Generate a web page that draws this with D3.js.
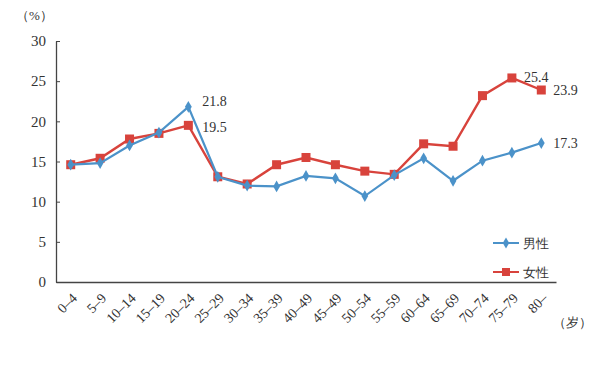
<!DOCTYPE html>
<html>
<head>
<meta charset="utf-8">
<script src="https://cdn.jsdelivr.net/npm/d3@7"></script>
<style>
  body { margin: 0; background: #fff; }
  svg { display: block; }
  text { font-family: "Liberation Serif", "DejaVu Serif", serif; }
</style>
</head>
<body>
<div id="chart"></div>
<script>
// age groups and rates (%)
var ages = ["0–4", "5–9", "10–14", "15–19", "20–24", "25–29", "30–34", "35–39", "40–49", "45–49",
            "50–54", "55–59", "60–64", "65–69", "70–74", "75–79", "80–"];
var male = [14.6, 14.8, 17.0, 18.6, 21.8, 13.1, 12.0, 11.9, 13.2, 12.9, 10.7, 13.3, 15.4, 12.6, 15.1, 16.1, 17.3];
var female = [14.6, 15.4, 17.8, 18.5, 19.5, 13.1, 12.2, 14.6, 15.5, 14.6, 13.8, 13.4, 17.2, 16.9, 23.2, 25.4, 23.9];
var yTicks = [0, 5, 10, 15, 20, 25, 30];
var seriesNames = ["男性", "女性"];

var blue = "#4b92c9";
var red = "#d8433c";
var textColor = "#333";

var width = 601, height = 365;
var margin = {left: 56, right: 45, top: 41, bottom: 83};

var svg = d3.select('#chart').append('svg')
    .attr('width', width)
    .attr('height', height);

var x = d3.scaleBand()
    .domain(ages)
    .range([margin.left, width - margin.right]);

var y = d3.scaleLinear()
    .domain([0, 30])
    .range([height - margin.bottom, margin.top]);

function px(d, i) { return x(ages[i]) + x.bandwidth() / 2; }

// y axis, ticks pointing inward
var yAxis = svg.append('g')
    .attr('transform', 'translate(' + margin.left + ',0)')
    .call(d3.axisRight(y).tickValues(yTicks).tickSize(4).tickSizeOuter(0));
yAxis.attr('font-family', null);
yAxis.select('.domain').attr('stroke', '#444').attr('stroke-width', 1.3);
yAxis.selectAll('.tick line').attr('stroke', '#444');
yAxis.selectAll('.tick text')
    .attr('x', -10)
    .attr('text-anchor', 'end')
    .attr('font-size', 15)
    .attr('fill', textColor);

// x axis: line only, rotated labels
var xAxis = svg.append('g')
    .attr('transform', 'translate(0,' + y(0) + ')')
    .call(d3.axisBottom(x).tickSize(0).tickSizeOuter(0));
xAxis.attr('font-family', null);
xAxis.select('.domain').attr('stroke', '#444').attr('stroke-width', 1.3);
xAxis.selectAll('.tick text')
    .attr('font-size', 14)
    .attr('fill', textColor)
    .attr('text-anchor', 'end')
    .attr('dy', 0)
    .attr('transform', 'translate(5,15) rotate(-45)');

// unit labels
svg.append('text').attr('x', 16).attr('y', 20)
    .attr('font-size', 13).attr('fill', textColor)
    .text('（%）');
svg.append('text').attr('x', 553).attr('y', 327)
    .attr('font-size', 13).attr('fill', textColor)
    .text('（岁）');

var line = d3.line()
    .x(px)
    .y(function(d) { return y(d); });

// female (red squares)
svg.append('path').datum(female)
    .attr('d', line)
    .attr('fill', 'none')
    .attr('stroke', red)
    .attr('stroke-width', 2.4);
svg.selectAll('.sq').data(female).enter().append('rect')
    .attr('x', function(d, i) { return px(d, i) - 4.5; })
    .attr('y', function(d) { return y(d) - 4.5; })
    .attr('width', 9).attr('height', 9)
    .attr('fill', red);

// male (blue diamonds)
svg.append('path').datum(male)
    .attr('d', line)
    .attr('fill', 'none')
    .attr('stroke', blue)
    .attr('stroke-width', 2.2);
svg.selectAll('.dm').data(male).enter().append('path')
    .attr('d', d3.symbol().type(d3.symbolDiamond).size(40))
    .attr('transform', function(d, i) { return 'translate(' + px(d, i) + ',' + y(d) + ')'; })
    .attr('fill', blue);

// value labels
var labels = [
  {s: male, i: 4, dx: 14, dy: -1},
  {s: female, i: 4, dx: 14, dy: 7},
  {s: female, i: 15, dx: 12, dy: 4},
  {s: female, i: 16, dx: 12, dy: 5},
  {s: male, i: 16, dx: 12, dy: 5}
];
svg.selectAll('.vl').data(labels).enter().append('text')
    .attr('x', function(d) { return px(0, d.i) + d.dx; })
    .attr('y', function(d) { return y(d.s[d.i]) + d.dy; })
    .attr('font-size', 14).attr('fill', textColor)
    .text(function(d) { return d.s[d.i].toFixed(1); });

// legend
var legend = svg.selectAll('.lg').data(seriesNames).enter().append('g')
    .attr('transform', function(d, i) { return 'translate(493,' + (243 + i * 29) + ')'; });
legend.append('line')
    .attr('x1', 0).attr('x2', 26)
    .attr('stroke', function(d, i) { return i ? red : blue; })
    .attr('stroke-width', 2);
legend.append('path')
    .attr('d', function(d, i) { return d3.symbol().type(i ? d3.symbolSquare : d3.symbolDiamond).size(i ? 64 : 36)(); })
    .attr('transform', 'translate(13,0)')
    .attr('fill', function(d, i) { return i ? red : blue; });
legend.append('text')
    .attr('x', 30).attr('y', 5)
    .attr('font-size', 13).attr('fill', textColor)
    .text(function(d) { return d; });
</script>
</body>
</html>
